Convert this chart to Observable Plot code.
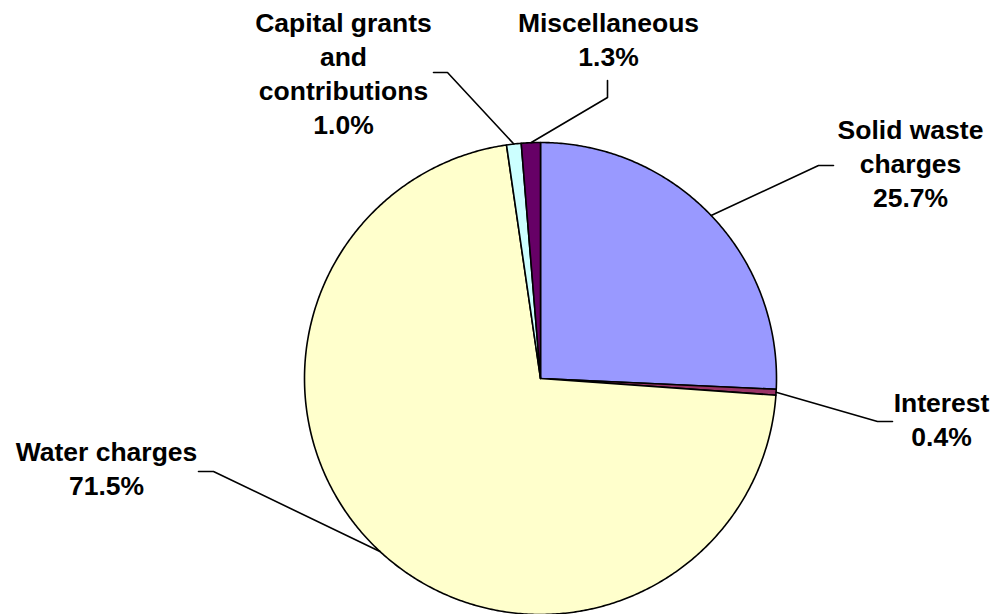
<!DOCTYPE html>
<html>
<head>
<meta charset="utf-8">
<script src="https://cdn.jsdelivr.net/npm/d3@7"></script>
<script src="https://cdn.jsdelivr.net/npm/@observablehq/plot@0.6"></script>
<style>
  html, body { margin: 0; padding: 0; background: #fff; }
  #chart svg { display: block; }
</style>
</head>
<body>
<div id="chart"></div>
<script>
// ---- data ----
const categories = ["Solid waste charges", "Interest", "Water charges", "Capital grants and contributions", "Miscellaneous"];
const values = [25.7, 0.4, 71.5, 1.0, 1.3];
const labels = ["Solid waste\ncharges\n25.7%", "Interest\n0.4%", "Water charges\n71.5%", "Capital grants\nand\ncontributions\n1.0%", "Miscellaneous\n1.3%"];
const colors = ["#9999FF", "#993366", "#FFFFCC", "#CCFFFF", "#660066"];

// ---- layout (pixel space) ----
const W = 997, H = 614;
const center = [540, 378];
const radius = 236;
const labelX = [910, 941, 106, 343, 608];
const labelY = [114, 387, 436, 7, 7];
const elbowX = [818, 877, 213, 447, 607];
const elbowY = [165, 421, 471, 72, 97];
const stubX = [833, 892, 198, 433, 607];
const stubY = [165, 421, 471, 72, 80];

const arcs = d3.pie().sort(null).value(d => d)(values);
const pt = (a, r) => [center[0] + r * Math.sin(a), center[1] - r * Math.cos(a)];

const sliceRows = [];
arcs.forEach((a, i) => {
  const cat = categories[i];
  sliceRows.push({cat, x: center[0], y: center[1]});
  const n = Math.max(2, Math.ceil((a.endAngle - a.startAngle) / (Math.PI / 360)));
  for (let k = 0; k <= n; k++) {
    const ang = a.startAngle + (a.endAngle - a.startAngle) * k / n;
    const [x, y] = pt(ang, radius);
    sliceRows.push({cat, x, y});
  }
  sliceRows.push({cat, x: center[0], y: center[1]});
});

const leaderRows = [];
arcs.forEach((a, i) => {
  const mid = (a.startAngle + a.endAngle) / 2;
  const [x0, y0] = pt(mid, radius);
  leaderRows.push({cat: categories[i], x: x0, y: y0});
  leaderRows.push({cat: categories[i], x: elbowX[i], y: elbowY[i]});
  leaderRows.push({cat: categories[i], x: stubX[i], y: stubY[i]});
});

const labelRows = categories.map((c, i) => ({cat: c, text: labels[i], x: labelX[i], y: labelY[i]}));

const chart = Plot.plot({
  width: W,
  height: H,
  margin: 0,
  x: {domain: [0, W], range: [0, W], axis: null},
  y: {domain: [0, H], range: [0, H], axis: null},
  color: {domain: categories, range: colors},
  style: {background: "#fff"},
  marks: [
    Plot.line(sliceRows, {x: "x", y: "y", z: "cat", fill: "cat", stroke: "#000", strokeWidth: 1.6, strokeLinejoin: "round", curve: "linear"}),
    Plot.line(leaderRows, {x: "x", y: "y", z: "cat", stroke: "#000", strokeWidth: 1.6, curve: "linear"}),
    Plot.text(labelRows, {x: "x", y: "y", text: "text", textAnchor: "middle", lineAnchor: "top", lineHeight: 1.29, fontSize: 26.5, fontWeight: "bold", fontFamily: "'Liberation Sans', Arial, sans-serif", fill: "#000"})
  ]
});
document.getElementById("chart").appendChild(chart);
</script>
</body>
</html>
